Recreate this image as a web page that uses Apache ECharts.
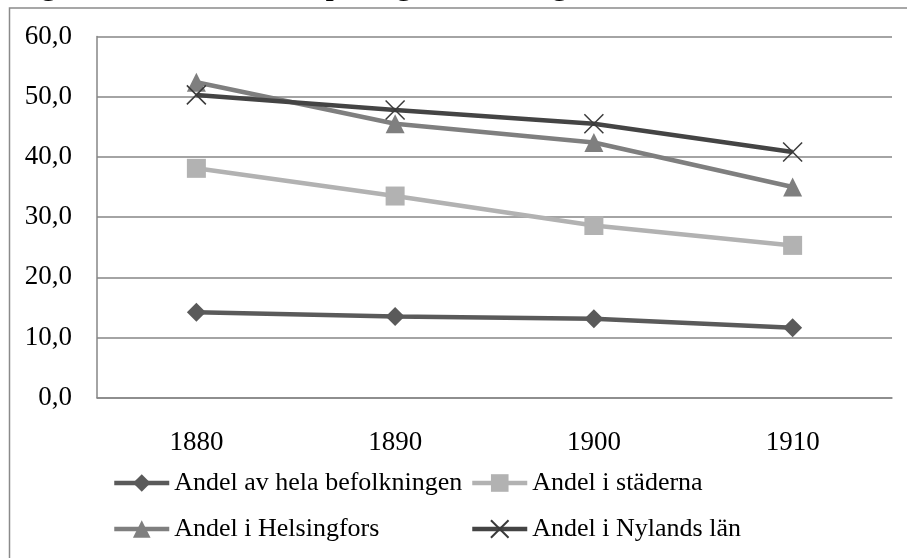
<!DOCTYPE html>
<html><head><meta charset="utf-8">
<script src="https://cdn.jsdelivr.net/npm/echarts@6/dist/echarts.min.js"></script>
<style>html,body{margin:0;padding:0;background:#fff}#c{width:907px;height:558px}</style>
</head><body><div id="c"></div>
<script>
const categories = ['1880', '1890', '1900', '1910'];
const helaBefolkningen = [14.2, 13.5, 13.1, 11.6];
const stadaerna = [38.1, 33.5, 28.6, 25.3];
const helsingfors = [52.4, 45.5, 42.4, 35.0];
const nylandsLan = [50.3, 47.8, 45.5, 40.8];
const seriesNames = ['Andel av hela befolkningen', 'Andel i städerna', 'Andel i Helsingfors', 'Andel i Nylands län'];
const yTicks = [0, 10, 20, 30, 40, 50, 60];
const titleText = 'Figur 1. Andel svenskspråkig befolkning i Finland 1880–1910';

const FONT = '"Liberation Serif", "Times New Roman", serif';
const crossPath = 'path://M0,0L10,10M10,0L0,10';

function mkSeries(name, data, color, symbol, size, extra) {
  return Object.assign({
    name, type: 'line', data, symbol, symbolSize: size,
    lineStyle: { color, width: 4.5 },
    itemStyle: { color },
    emphasis: { disabled: true },
    animation: false, z: 3
  }, extra || {});
}

const chart = echarts.init(document.getElementById('c'), null, { renderer: 'canvas' });
const legendBase = (name, left, top) => ({
  data: [name], left, top, orient: 'horizontal', padding: 0,
  itemWidth: 55, itemHeight: 22, itemGap: 0, selectedMode: false,
  lineStyle: { width: 4.5 },
  textStyle: { fontFamily: FONT, fontSize: 26, color: '#000', padding: [0, 0, 0, 0] }
});
chart.setOption({
  animation: false,
  grid: { left: 97, right: 15, top: 36.5, bottom: 160.3, containLabel: false },
  graphic: [
    { type: 'rect', shape: { x: 9.5, y: 8, width: 1000, height: 1000 }, style: { fill: 'none', stroke: '#8a8a8a', lineWidth: 1.5 }, silent: true, z: 0 },
    { type: 'text', x: 12, y: 2, style: { text: titleText, font: '34px ' + FONT, fill: '#000', verticalAlign: 'bottom' }, silent: true }
  ],
  legend: [
    legendBase(seriesNames[0], 112, 470),
    legendBase(seriesNames[1], 470, 470),
    legendBase(seriesNames[2], 112, 516),
    legendBase(seriesNames[3], 470, 516)
  ],
  xAxis: {
    type: 'category', data: categories, boundaryGap: true,
    axisLine: { show: true, lineStyle: { color: '#868686', width: 1.5 } },
    axisTick: { show: false },
    axisLabel: { fontFamily: FONT, fontSize: 27, color: '#000', margin: 32 },
    splitLine: { show: false }
  },
  yAxis: {
    type: 'value', min: yTicks[0], max: yTicks[yTicks.length - 1], interval: 10,
    axisLine: { show: true, lineStyle: { color: '#868686', width: 1.5 } },
    axisTick: { show: false },
    axisLabel: { fontFamily: FONT, fontSize: 27, color: '#000', margin: 25,
      formatter: v => v.toFixed(1).replace('.', ',') },
    splitLine: { show: true, lineStyle: { color: '#868686', width: 1.5 } }
  },
  series: [
    mkSeries(seriesNames[0], helaBefolkningen, '#5a5a5a', 'diamond', 19),
    mkSeries(seriesNames[1], stadaerna, '#b2b2b2', 'rect', 19),
    mkSeries(seriesNames[2], helsingfors, '#7f7f7f', 'triangle', 19),
    mkSeries(seriesNames[3], nylandsLan, '#444444', crossPath, 19, {
      itemStyle: { color: 'none', borderColor: '#3a3a3a', borderWidth: 1.5 }
    })
  ]
});
</script></body></html>
